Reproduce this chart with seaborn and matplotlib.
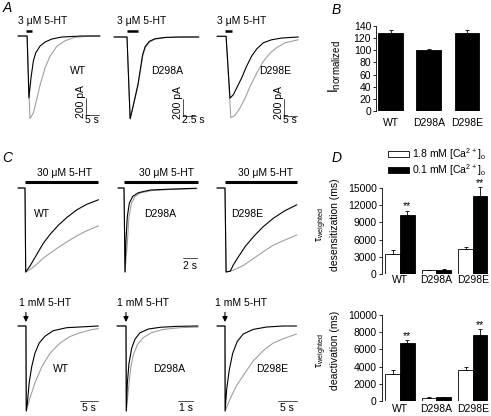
import matplotlib
matplotlib.use('Agg')
import matplotlib.pyplot as plt
import pandas as pd
import seaborn as sns
from matplotlib.patches import Patch

W, H = 491, 416

# ---- panel A: 3 uM 5-HT currents (time in s, current in pA) ----
a_wt_t_k = [0, 3.5, 4.2, 5.0, 5.9, 6.8, 8.5, 10.4, 13.0, 16.8, 24.5, 31.5]
a_wt_i_k = [0, 0, -715, -485, -290, -195, -115, -70, -35, -12, 0, 0]
a_wt_t_g = [0, 3.5, 4.6, 5.9, 7.2, 8.5, 10.4, 12.3, 14.9, 18.1, 21.9, 27.0, 31.5]
a_wt_i_g = [0, 0, -955, -890, -735, -565, -370, -235, -120, -55, -15, -3, 0]

a_a_t = [0, 2.5, 3.1, 3.6, 4.1, 4.6, 5.1, 5.5, 6.0, 6.8, 7.9, 9.9, 12.4, 16.3]
a_a_i_k = [0, 0, -945, -820, -685, -550, -360, -205, -110, -50, -20, -5, 0, 0]
a_a_i_g = [0, 0, -945, -825, -695, -565, -385, -230, -125, -60, -25, -7, -2, 0]

a_e_t_k = [0, 3.5, 5.0, 6.3, 7.6, 9.5, 11.4, 13.3, 15.3, 17.8, 21.0, 24.9, 31.3]
a_e_i_k = [0, 0, -715, -675, -595, -480, -345, -230, -145, -75, -40, -20, -8]
a_e_t_g = [0, 3.5, 5.3, 6.9, 8.8, 10.8, 12.7, 15.3, 17.8, 20.4, 23.0, 26.2, 31.3]
a_e_i_g = [0, 0, -940, -915, -830, -715, -580, -425, -290, -195, -130, -75, -40]

# ---- panel C top: 30 uM 5-HT, normalized current ----
c_wt_t_k = [0, 1.0, 1.1, 1.7, 2.2, 2.9, 3.6, 4.6, 5.8, 7.0, 8.4, 9.8, 11.5]
c_wt_i_k = [0, 0, -1.0, -0.93, -0.86, -0.76, -0.66, -0.55, -0.44, -0.35, -0.26, -0.195, -0.14]
c_wt_t_g = [0, 1.0, 1.1, 2.0, 2.7, 3.6, 4.6, 5.8, 7.0, 8.4, 9.8, 11.5]
c_wt_i_g = [0, 0, -1.0, -0.955, -0.905, -0.835, -0.775, -0.705, -0.64, -0.57, -0.51, -0.45]

c_a_t_k = [0, 0.86, 1.0, 1.14, 1.33, 1.62, 2.1, 2.9, 4.6, 7.0, 11.2]
c_a_i_k = [0, 0, -1.0, -0.62, -0.34, -0.18, -0.10, -0.056, -0.024, -0.015, -0.003]
c_a_t_g = [0, 0.86, 1.0, 1.36, 1.57, 1.93, 2.43, 3.3, 4.9, 7.4, 11.3]
c_a_i_g = [0, 0, -1.0, -0.62, -0.34, -0.18, -0.10, -0.056, -0.03, -0.018, -0.008]

c_e_t_k = [0, 1.14, 1.3, 1.9, 2.3, 3.05, 4.0, 5.2, 6.6, 8.05, 9.7, 11.4]
c_e_i_k = [0, 0, -1.0, -0.99, -0.92, -0.82, -0.70, -0.58, -0.46, -0.36, -0.27, -0.20]
c_e_t_g = [0, 1.14, 1.3, 2.3, 3.8, 5.2, 6.6, 8.05, 9.7, 11.4]
c_e_i_g = [0, 0, -1.0, -0.98, -0.92, -0.84, -0.76, -0.68, -0.62, -0.56]

# ---- panel C bottom: 1 mM 5-HT pulse, normalized current ----
cb_wt_t_k = [0, 2.2, 2.3, 2.6, 3.1, 3.8, 4.7, 5.9, 7.5, 9.8, 13.5, 22.3]
cb_wt_i_k = [0, 0, -1.0, -0.91, -0.67, -0.48, -0.32, -0.20, -0.12, -0.055, -0.02, 0]
cb_wt_t_g = [0, 2.2, 2.3, 3.3, 4.7, 6.6, 8.9, 11.7, 14.4, 17.2, 20.0, 22.3]
cb_wt_i_g = [0, 0, -1.0, -0.85, -0.67, -0.48, -0.32, -0.20, -0.125, -0.08, -0.047, -0.03]

cb_a_t_k = [0, 0.6, 0.62, 0.69, 0.8, 0.98, 1.2, 1.53, 2.1, 2.9, 4.0, 5.4]
cb_a_i_k = [0, 0, -1.0, -0.67, -0.44, -0.26, -0.155, -0.08, -0.035, -0.015, -0.004, 0]
cb_a_t_g = [0, 0.6, 0.62, 0.76, 0.91, 1.09, 1.36, 1.76, 2.3, 3.1, 4.2, 5.4]
cb_a_i_g = [0, 0, -1.0, -0.75, -0.50, -0.34, -0.22, -0.135, -0.078, -0.04, -0.02, -0.012]

cb_e_t_k = [0, 2.16, 2.2, 2.6, 3.3, 4.25, 5.5, 7.1, 9.8, 13.4, 17.9, 21.5]
cb_e_i_k = [0, 0, -1.0, -0.75, -0.52, -0.32, -0.18, -0.094, -0.04, -0.012, 0, 0]
cb_e_t_g = [0, 2.16, 2.2, 3.5, 5.3, 7.6, 9.8, 12.5, 15.2, 17.9, 21.5]
cb_e_i_g = [0, 0, -1.0, -0.86, -0.70, -0.55, -0.41, -0.29, -0.20, -0.15, -0.094]

# ---- bar charts ----
genotypes = ['WT', 'D298A', 'D298E']
inorm = [128, 100, 129]
inorm_err = [5, 2, 4]
desens_18 = [3550, 640, 4300]
desens_18_err = [600, 60, 400]
desens_01 = [10300, 750, 13550]
desens_01_err = [750, 60, 1550]
deact_18 = [3200, 430, 3600]
deact_18_err = [380, 40, 310]
deact_01 = [6700, 450, 7700]
deact_01_err = [350, 40, 650]
signif = ['**', '', '**']
ca_labels = ['1.8 mM [Ca$^{2+}$]$_{o}$', '0.1 mM [Ca$^{2+}$]$_{o}$']

sns.set_style('ticks')
plt.rcParams['font.family'] = ['Liberation Sans', 'DejaVu Sans']
plt.rcParams.update({
    'mathtext.default': 'regular',
    'font.size': 7.5,
    'text.color': 'black',
    'axes.edgecolor': 'black',
    'axes.labelcolor': 'black',
    'xtick.color': 'black',
    'ytick.color': 'black',
    'axes.linewidth': 0.6,
    'ytick.major.width': 0.6,
    'xtick.labelsize': 7.5,
    'ytick.labelsize': 7.5,
})

fig = plt.figure(figsize=(W / 100, H / 100), dpi=100)


def px_axes(l, t, r, b):
    return fig.add_axes([l / W, 1 - b / H, (r - l) / W, (b - t) / H])


def trace_panel(box, x0, y0, sx, sy, black, grey):
    ax = px_axes(*box)
    sns.lineplot(x=grey[0], y=grey[1], ax=ax, color='#9a9a9a', linewidth=0.75,
                 estimator=None, sort=False)
    sns.lineplot(x=black[0], y=black[1], ax=ax, color='black', linewidth=0.8,
                 estimator=None, sort=False)
    l, t, r, b = box
    ax.set_xlim((l - x0) / sx, (r - x0) / sx)
    ax.set_ylim((y0 - b) / sy, (y0 - t) / sy)
    ax.set_axis_off()
    return ax


def stim(ax, t0, t1, y, lw):
    ax.plot([t0, t1], [y, y], color='black', lw=lw, solid_capstyle='butt')


def scalebar(ax, t0, t1, i_top, i_bot):
    xs = [t0, t0, t1] if i_top is not None else [t0, t1]
    ys = [i_top, i_bot, i_bot] if i_top is not None else [i_bot, i_bot]
    ax.plot(xs, ys, color='#333333', lw=0.6)


def arrow(ax, t, y0, y1):
    ax.annotate('', xy=(t, y1), xytext=(t, y0),
                arrowprops=dict(arrowstyle='-|>,head_length=0.4,head_width=0.2',
                                color='black', lw=0.8, shrinkA=0, shrinkB=0))


# Panel A
ax = trace_panel((15, 10, 105, 130), 18, 36, 2.6, 0.0865,
                 (a_wt_t_k, a_wt_i_k), (a_wt_t_g, a_wt_i_g))
stim(ax, 3.1, 5.3, 61, 1.8)
ax.text(9.5, 177, '3 μM 5-HT', ha='center', va='center')
ax.text(23.1, -408, 'WT', ha='center', va='center')
scalebar(ax, 26, 31, -717, -917)
ax.text(26, -763, '200 pA', rotation=90, ha='right', va='center')
ax.text(28.6, -967, '5 s', ha='center', va='center')

ax = trace_panel((112, 10, 205, 130), 114, 37, 5.2, 0.0865,
                 (a_a_t, a_a_i_k), (a_a_t, a_a_i_g))
stim(ax, 2.5, 4.6, 73, 1.8)
ax.text(5.25, 188, '3 μM 5-HT', ha='center', va='center')
ax.text(10.2, -397, 'D298A', ha='center', va='center')
scalebar(ax, 13.3, 15.8, -713, -913)
ax.text(13.3, -760, '200 pA', rotation=90, ha='right', va='center')
ax.text(15.25, -956, '2.5 s', ha='center', va='center')

ax = trace_panel((212, 10, 305, 130), 217, 36.3, 2.6, 0.0865,
                 (a_e_t_k, a_e_i_k), (a_e_t_g, a_e_i_g))
stim(ax, 3.1, 5.9, 65, 1.8)
ax.text(9.6, 180, '3 μM 5-HT', ha='center', va='center')
ax.text(22.3, -405, 'D298E', ha='center', va='center')
scalebar(ax, 25.8, 30.8, -721, -921)
ax.text(25.8, -767, '200 pA', rotation=90, ha='right', va='center')
ax.text(28.1, -964, '5 s', ha='center', va='center')

# Panel C top
ax = trace_panel((15, 160, 105, 290), 18, 188, 7, 84,
                 (c_wt_t_k, c_wt_i_k), (c_wt_t_g, c_wt_i_g))
stim(ax, 1.0, 11.4, 0.071, 2.2)
ax.text(6.7, 0.18, '30 μM 5-HT', ha='center', va='center')
ax.text(3.43, -0.31, 'WT', ha='center', va='center')

ax = trace_panel((112, 160, 205, 290), 118, 188, 7, 84,
                 (c_a_t_k, c_a_i_k), (c_a_t_g, c_a_i_g))
stim(ax, 0.86, 11.43, 0.071, 2.2)
ax.text(6.86, 0.18, '30 μM 5-HT', ha='center', va='center')
ax.text(6.0, -0.31, 'D298A', ha='center', va='center')
scalebar(ax, 9.29, 11.29, None, -0.83)
ax.text(10.3, -0.93, '2 s', ha='center', va='center')

ax = trace_panel((212, 160, 305, 290), 217, 188, 7, 84,
                 (c_e_t_k, c_e_i_k), (c_e_t_g, c_e_i_g))
stim(ax, 1.14, 11.43, 0.071, 2.2)
ax.text(6.86, 0.18, '30 μM 5-HT', ha='center', va='center')
ax.text(4.36, -0.31, 'D298E', ha='center', va='center')

# Panel C bottom
ax = trace_panel((15, 292, 105, 416), 18, 326, 3.6, 85,
                 (cb_wt_t_k, cb_wt_i_k), (cb_wt_t_g, cb_wt_i_g))
arrow(ax, 2.2, 0.16, 0.047)
ax.text(7.5, 0.27, '1 mM 5-HT', ha='center', va='center')
ax.text(11.9, -0.506, 'WT', ha='center', va='center')
scalebar(ax, 17.2, 22.2, None, -0.88)
ax.text(19.7, -0.965, '5 s', ha='center', va='center')

ax = trace_panel((112, 292, 205, 416), 117, 326, 15, 85,
                 (cb_a_t_k, cb_a_i_k), (cb_a_t_g, cb_a_i_g))
arrow(ax, 0.6, 0.16, 0.047)
ax.text(1.75, 0.27, '1 mM 5-HT', ha='center', va='center')
ax.text(3.47, -0.506, 'D298A', ha='center', va='center')
scalebar(ax, 4.07, 5.07, None, -0.88)
ax.text(4.57, -0.965, '1 s', ha='center', va='center')

ax = trace_panel((212, 292, 305, 416), 217, 326, 3.7, 85,
                 (cb_e_t_k, cb_e_i_k), (cb_e_t_g, cb_e_i_g))
arrow(ax, 2.16, 0.16, 0.047)
ax.text(6.6, 0.27, '1 mM 5-HT', ha='center', va='center')
ax.text(14.9, -0.506, 'D298E', ha='center', va='center')
scalebar(ax, 16.5, 21.5, None, -0.88)
ax.text(19.0, -0.965, '5 s', ha='center', va='center')


def add_errors(ax, errs, stars=None):
    bars = sorted(ax.patches, key=lambda p: p.get_x())
    for k, (p, e) in enumerate(zip(bars, errs)):
        xc = p.get_x() + p.get_width() / 2
        h = p.get_height()
        eb = ax.errorbar(xc, h, yerr=[[0], [e]], fmt='none', ecolor='black',
                         elinewidth=0.6, capsize=1.6, capthick=0.6)
        for art in eb.get_children():
            art.set_clip_on(False)
        if stars and stars[k]:
            ax.annotate(stars[k], xy=(xc, h + e), xytext=(0, -0.5),
                        textcoords='offset points', ha='center', va='bottom',
                        annotation_clip=False, fontsize=7.5)


def style_bar_axes(ax, xpad):
    sns.despine(ax=ax, bottom=True)
    ax.tick_params(axis='x', length=0, pad=xpad)
    ax.tick_params(axis='y', length=2.3, pad=1.2)
    ax.set_xlabel('')


# Panel B
axB = px_axes(376, 26, 491, 111)
df_b = pd.DataFrame({'genotype': genotypes, 'value': inorm})
sns.barplot(data=df_b, x='genotype', y='value', color='black', saturation=1,
            width=0.65, edgecolor='black', linewidth=0.6, errorbar=None, ax=axB)
axB.set_xlim(-0.38, 2.63)
axB.set_ylim(0, 140)
axB.set_yticks(range(0, 141, 20))
add_errors(axB, inorm_err)
style_bar_axes(axB, 5.0)
axB.set_ylabel('I$_{normalized}$', fontsize=10)
axB.yaxis.set_label_coords(-0.287, 0.52)

# Panel D
pal = {'1.8': 'white', '0.1': 'black'}


def interleave(a, b):
    out = []
    for x, y in zip(a, b):
        out += [x, y]
    return out


axD1 = px_axes(381.7, 188, 491, 274)
df_d1 = pd.DataFrame({'genotype': genotypes * 2,
                      'ca': ['1.8'] * 3 + ['0.1'] * 3,
                      'value': desens_18 + desens_01})
sns.barplot(data=df_d1, x='genotype', y='value', hue='ca', palette=pal,
            saturation=1, width=0.8, edgecolor='black', linewidth=0.6,
            errorbar=None, legend=False, ax=axD1)
axD1.set_xlim(-0.503, 2.50)
axD1.set_ylim(0, 15000)
axD1.set_yticks(range(0, 15001, 3000))
add_errors(axD1, interleave(desens_18_err, desens_01_err),
           interleave([''] * 3, signif))
style_bar_axes(axD1, 1.0)
axD1.set_ylabel('τ$_{weighted}$\ndesensitization (ms)')
axD1.yaxis.set_label_coords(-0.38, 0.57)

axD2 = px_axes(381.7, 314.7, 491, 401.3)
df_d2 = pd.DataFrame({'genotype': genotypes * 2,
                      'ca': ['1.8'] * 3 + ['0.1'] * 3,
                      'value': deact_18 + deact_01})
sns.barplot(data=df_d2, x='genotype', y='value', hue='ca', palette=pal,
            saturation=1, width=0.8, edgecolor='black', linewidth=0.6,
            errorbar=None, legend=False, ax=axD2)
axD2.set_xlim(-0.503, 2.50)
axD2.set_ylim(0, 10000)
axD2.set_yticks(range(0, 10001, 2000))
add_errors(axD2, interleave(deact_18_err, deact_01_err),
           interleave([''] * 3, signif))
style_bar_axes(axD2, 1.8)
axD2.set_ylabel('τ$_{weighted}$\ndeactivation (ms)')
axD2.yaxis.set_label_coords(-0.38, 0.59)

handles = [Patch(facecolor='white', edgecolor='black', linewidth=0.6),
           Patch(facecolor='black', edgecolor='black', linewidth=0.6)]
fig.legend(handles, ca_labels, loc='upper left',
           bbox_to_anchor=(388 / W, 1 - 146 / H), frameon=False,
           fontsize=7.5, handlelength=2.0, handleheight=0.5,
           handletextpad=0.35, labelspacing=0.0, borderpad=0,
           borderaxespad=0)

# panel letters
for letter, x, y in [('A', 3, 8), ('B', 332, 10), ('C', 2, 158), ('D', 332, 158)]:
    fig.text(x / W, 1 - y / H, letter, fontsize=10, fontstyle='italic',
             ha='left', va='center')

fig.savefig('out.png', dpi=100)
